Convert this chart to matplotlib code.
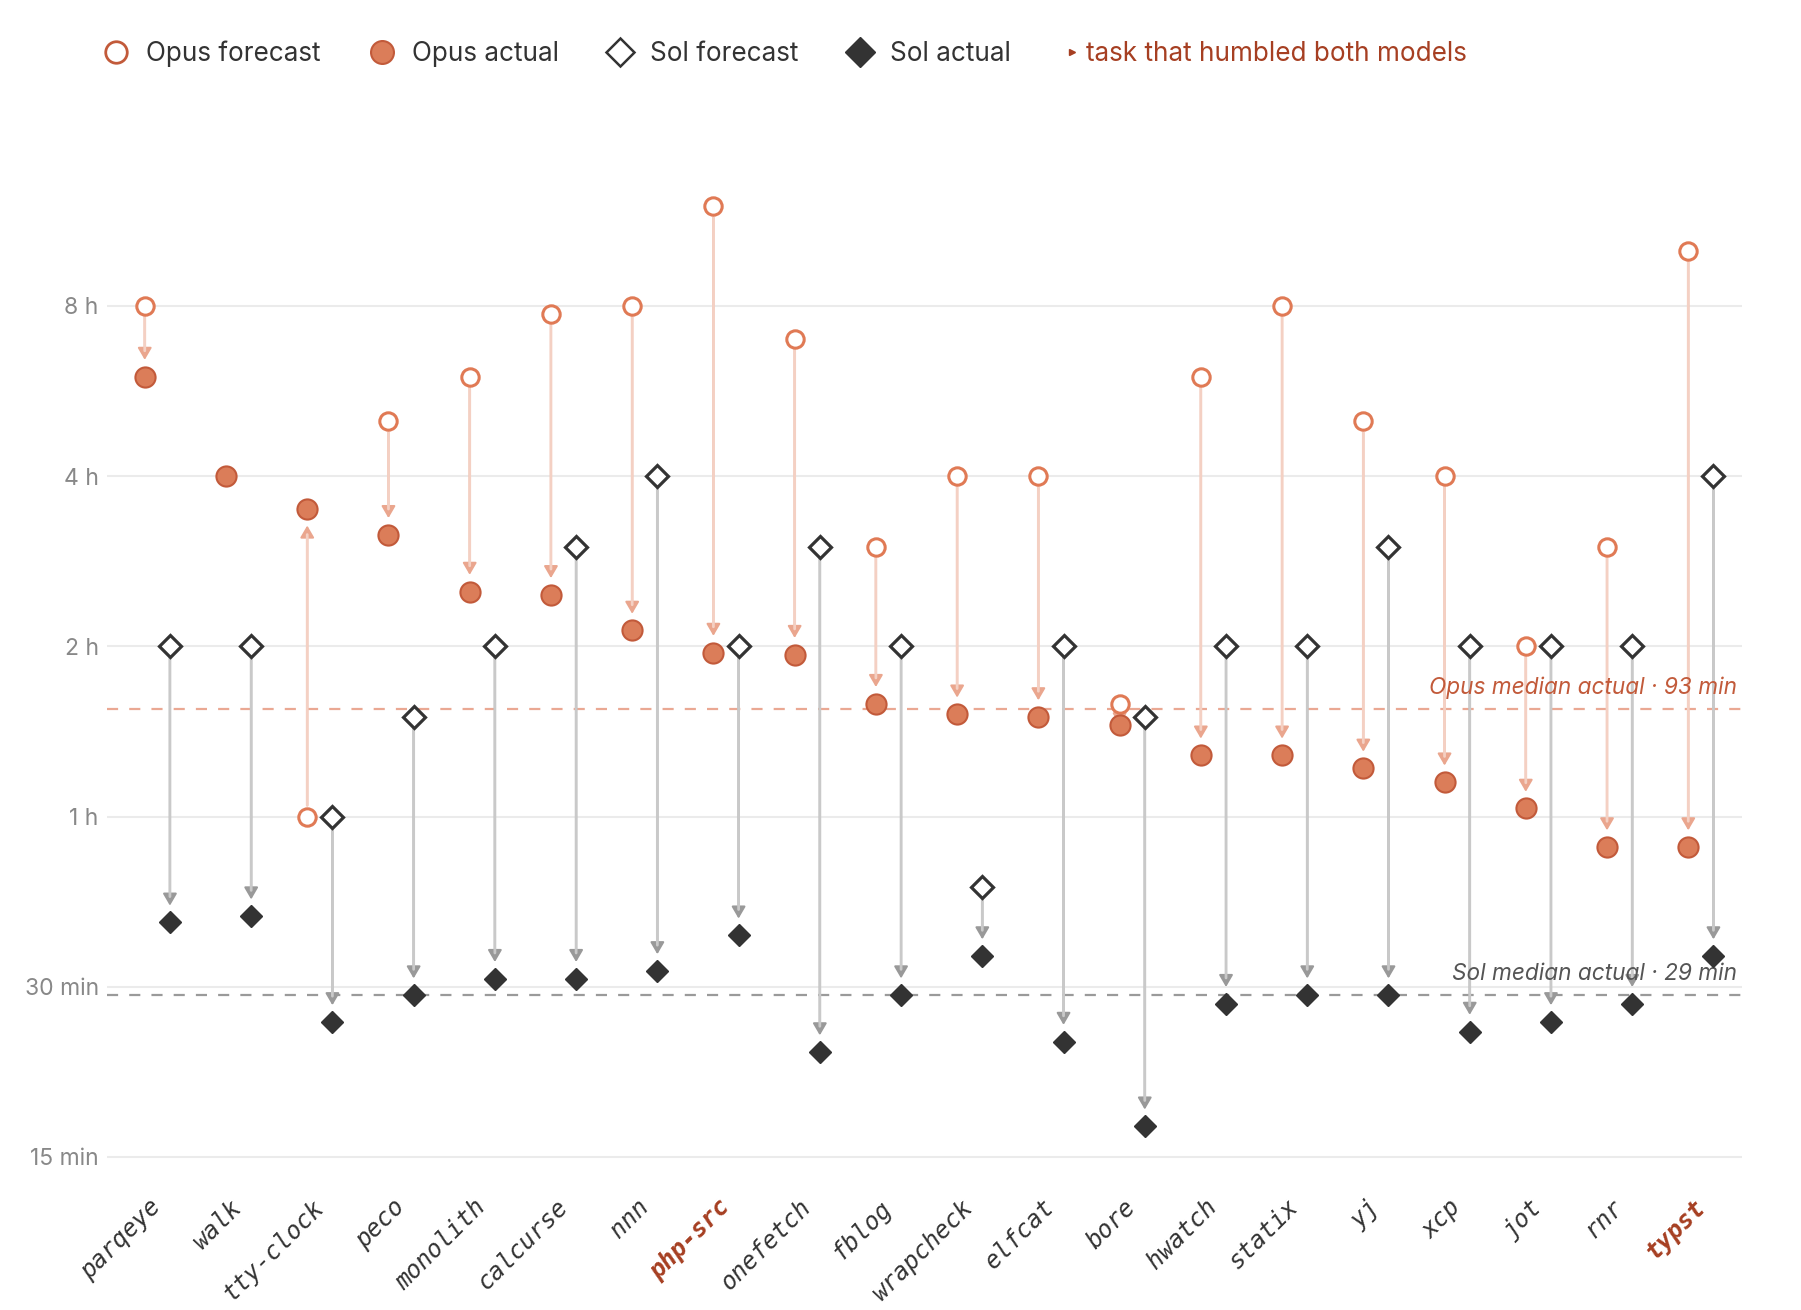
import numpy as np
import matplotlib.pyplot as plt
from matplotlib.lines import Line2D

plt.rcParams['font.family'] = ['Inter', 'DejaVu Sans']

# minutes
tasks = ['parqeye', 'walk', 'tty-clock', 'peco', 'monolith', 'calcurse', 'nnn',
         'php-src', 'onefetch', 'fblog', 'wrapcheck', 'elfcat', 'bore', 'hwatch',
         'statix', 'yj', 'xcp', 'jot', 'rnr', 'typst']
opus_forecast = [480, 240, 60, 300, 360, 465, 480, 720, 420, 180,
                 240, 240, 95, 360, 480, 300, 240, 120, 180, 600]
opus_actual = [360, 240, 210, 189, 150, 148, 128, 117, 116, 95,
               91, 90, 87, 77, 77, 73, 69, 62, 53, 53]
sol_forecast = [120, 120, 60, 90, 120, 180, 240, 120, 180, 120,
                45, 120, 90, 120, 120, 180, 120, 120, 120, 240]
sol_actual = [39, 40, 26, 29, 31, 31, 32, 37, 23, 29,
              34, 24, 17, 28, 29, 29, 25, 26, 28, 34]
humbled = ['php-src', 'typst']

ytick_vals = [15, 30, 60, 120, 240, 480]
ytick_labels = ['15 min', '30 min', '1 h', '2 h', '4 h', '8 h']

OPUS = '#e07a55'
OPUS_FILL = '#db7d59'
OPUS_EDGE = '#c25a3a'
OPUS_LINE = '#f4d0c3'
OPUS_HEAD = '#eaa68e'
SOL = '#333333'
SOL_LINE = '#c9c9c9'
SOL_HEAD = '#999999'
RED = '#a63f22'

fig = plt.figure(figsize=(18.01, 13.10), dpi=100)
ax = fig.add_axes([0.0594, 0.1047, 0.908, 0.7811])

idx = np.arange(len(tasks))
opus_x = idx - 0.155
sol_x = idx + 0.155


def arrow(x, y0, y1, line_c, head_c, sA=8, sB=12):
    if abs(np.log2(y1 / y0)) < 0.05:
        return
    style = '-|>,head_length=0.36,head_width=0.21'
    ax.annotate('', xy=(x, y1), xytext=(x, y0),
                arrowprops=dict(arrowstyle=style, color=head_c, lw=1.5,
                                shrinkA=sA, shrinkB=sB, mutation_scale=20),
                zorder=2)
    ax.annotate('', xy=(x, y1), xytext=(x, y0),
                arrowprops=dict(arrowstyle='-', color=line_c, lw=2.0,
                                shrinkA=sA, shrinkB=sB + 6.5),
                zorder=2)


for i in idx:
    arrow(opus_x[i], opus_forecast[i], opus_actual[i], OPUS_LINE, OPUS_HEAD)
    arrow(sol_x[i], sol_forecast[i], sol_actual[i], SOL_LINE, SOL_HEAD)

ax.plot(opus_x, opus_forecast, 'o', ms=12.5, mfc='white', mec=OPUS, mew=2.2,
        ls='none', zorder=4)
ax.plot(opus_x, opus_actual, 'o', ms=14.5, mfc=OPUS_FILL, mec=OPUS_EDGE, mew=1.5,
        ls='none', zorder=4)
ax.plot(sol_x, sol_forecast, 'D', ms=11, mfc='white', mec=SOL, mew=2.3,
        ls='none', zorder=4)
ax.plot(sol_x, sol_actual, 'D', ms=11.5, mfc=SOL, mec=SOL, mew=1,
        ls='none', zorder=4)

# medians
opus_med = np.median(opus_actual)
sol_med = np.median(sol_actual)
ax.axhline(opus_med, color='#eaa893', lw=1.6, ls=(0, (5, 5)), zorder=1)
ax.axhline(sol_med, color='#9a9a9a', lw=1.6, ls=(0, (5, 5)), zorder=1)
ytr = ax.get_yaxis_transform()
ax.text(0.997, opus_med * 1.04, f'Opus median actual · {opus_med:.0f} min',
        transform=ytr, ha='right', va='bottom',
        fontsize=16.3, style='italic', color='#c25a3a')
ax.text(0.997, sol_med * 1.04, f'Sol median actual · {sol_med:.0f} min',
        transform=ytr, ha='right', va='bottom',
        fontsize=16.3, style='italic', color='#555555')

ax.set_yscale('log', base=2)
ax.set_ylim(14.06, 907)
ax.set_xlim(-0.62, 19.51)
ax.set_yticks(ytick_vals)
ax.set_yticklabels(ytick_labels)
ax.minorticks_off()
ax.yaxis.grid(True, color='#ebebeb', lw=1.5, zorder=0)
ax.set_axisbelow(True)
for s in ax.spines.values():
    s.set_visible(False)
ax.tick_params(axis='y', length=0, pad=6, labelsize=16.5, labelcolor='#888888')
ax.tick_params(axis='x', length=0, pad=22)

ax.set_xticks(idx)
ax.set_xticklabels(tasks, rotation=45, ha='right', va='center',
                   rotation_mode='anchor', family='DejaVu Sans Mono',
                   style='italic', fontsize=17.5)
for lab in ax.get_xticklabels():
    if lab.get_text() in humbled:
        lab.set_color(RED)
        lab.set_fontweight('bold')
    else:
        lab.set_color('#333333')

handles = [
    Line2D([], [], marker='o', ls='none', ms=15.5, mfc='white', mec=OPUS_EDGE, mew=2.0),
    Line2D([], [], marker='o', ls='none', ms=16.5, mfc=OPUS_FILL, mec=OPUS_EDGE, mew=1.5),
    Line2D([], [], marker='D', ls='none', ms=14, mfc='white', mec=SOL, mew=1.8),
    Line2D([], [], marker='D', ls='none', ms=15, mfc=SOL, mec=SOL),
    Line2D([], [], marker='>', ls='none', ms=5, mfc=RED, mec=RED),
]
labels = ['Opus forecast', 'Opus actual', 'Sol forecast', 'Sol actual',
          'task that humbled both models']
leg = fig.legend(handles, labels, loc='center left', bbox_to_anchor=(0.057, 0.959),
                 ncol=5, frameon=False, fontsize=18.8, handlelength=1.0,
                 handletextpad=0.65, columnspacing=1.85, borderpad=0,
                 borderaxespad=0)
for txt in leg.get_texts():
    txt.set_color('#333333')
leg.get_texts()[-1].set_color(RED)
leg.get_texts()[-1].set_x(-16)

fig.savefig('out.png', dpi=100)
